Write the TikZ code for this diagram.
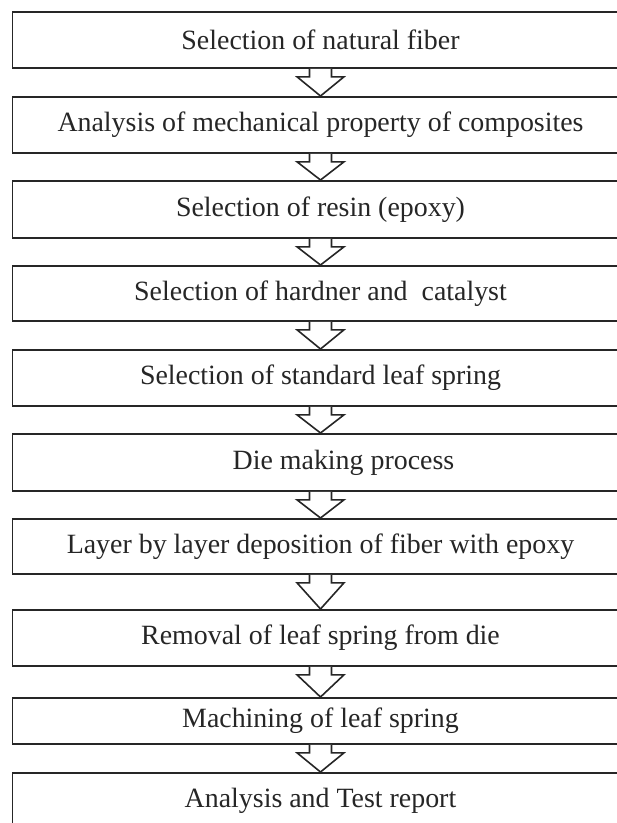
\documentclass[tikz,border=0pt]{standalone}
\usepackage{fontspec}
\setmainfont{Liberation Serif}
\usetikzlibrary{calc}
\tikzset{
  stepbox/.style={draw=black!85, line width=1.8bp, fill=white, minimum width=616bp,
    inner sep=0pt, anchor=north, font=\fontsize{28}{32}\selectfont, text=black!85},
  arr/.style={draw=black!85, line width=1.6bp, fill=white, line join=miter}
}
\newcommand\blockarrow[2]{%
  \draw[arr] ($(#1.south)+(-11,0)$) -- ++(0,8) -- ++(-12.5,0) -- (#2.north)
    -- ($(#1.south)+(23.5,8)$) -- ++(-12.5,0) -- ($(#1.south)+(11,0)$);}
\begin{document}
\begin{tikzpicture}[x=1bp,y=-1bp]
\useasboundingbox (0,0) rectangle (617,823);
\clip (0,0) rectangle (617,823);
\node[stepbox, minimum height=56bp] (b1) at (320.5,11) {Selection of natural fiber};
\node[stepbox, minimum height=56bp] (b2) at (320.5,96) {Analysis of mechanical property of composites};
\node[stepbox, minimum height=57bp] (b3) at (320.5,180) {Selection of resin (epoxy)};
\node[stepbox, minimum height=55bp] (b4) at (320.5,265) {Selection of hardner and\ \ catalyst};
\node[stepbox, minimum height=56bp] (b5) at (320.5,349) {Selection of standard leaf spring};
\node[stepbox, minimum height=57bp] (b6) at (320.5,433) {\hspace*{46bp}Die making process};
\node[stepbox, minimum height=55bp] (b7) at (320.5,518) {Layer by layer deposition of fiber with epoxy};
\node[stepbox, minimum height=56bp] (b8) at (320.5,609) {Removal of leaf spring from die};
\node[stepbox, minimum height=46bp] (b9) at (320.5,697) {Machining of leaf spring};
\node[stepbox, minimum height=56bp] (b10) at (320.5,772) {Analysis and Test report};
\blockarrow{b1}{b2}
\blockarrow{b2}{b3}
\blockarrow{b3}{b4}
\blockarrow{b4}{b5}
\blockarrow{b5}{b6}
\blockarrow{b6}{b7}
\blockarrow{b7}{b8}
\blockarrow{b8}{b9}
\blockarrow{b9}{b10}
\end{tikzpicture}
\end{document}
